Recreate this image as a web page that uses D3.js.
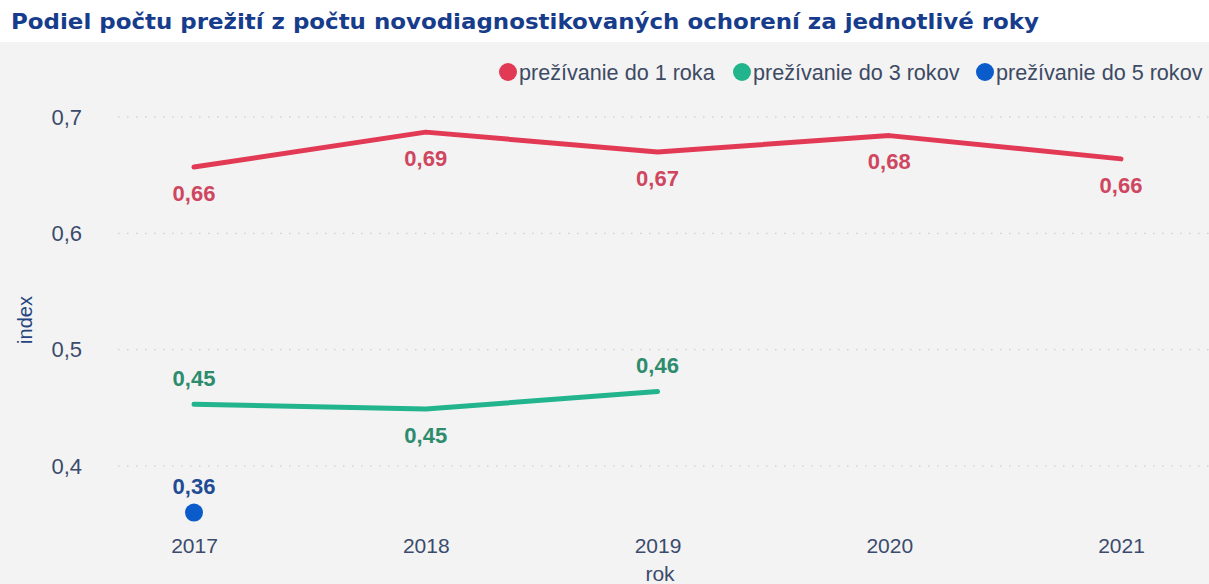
<!DOCTYPE html>
<html>
<head>
<meta charset="utf-8">
<script src="https://cdn.jsdelivr.net/npm/d3@7"></script>
<style>
  body { margin: 0; background: #fff; }
  #chart { width: 1209px; height: 584px; }
  text { font-family: "Liberation Sans", Arial, sans-serif; }
</style>
</head>
<body>
<div id="chart"></div>
<script>
// data
const years = ["2017", "2018", "2019", "2020", "2021"];
const survival1 = [0.657, 0.687, 0.670, 0.684, 0.664];
const survival3 = [0.453, 0.449, 0.464, null, null];
const survival5 = [0.360, null, null, null, null];
const seriesNames = ["prežívanie do 1 roka", "prežívanie do 3 rokov", "prežívanie do 5 rokov"];
const yTicks = [0.4, 0.5, 0.6, 0.7];
// label below (+1) or above (-1) each point
const labelSide1 = [1, 1, 1, 1, 1];
const labelSide3 = [-1, 1, -1, 0, 0];
const labelSide5 = [-1, 0, 0, 0, 0];

const colors = ["#e23a55", "#22b48c", "#0b5ccb"];
const labelColors = ["#cf4660", "#2c8c6c", "#1f4c95"];

const width = 1209, height = 584;
const svg = d3.select("#chart").append("svg")
    .attr("width", width)
    .attr("height", height);

// background panel + white title strip
svg.append("rect").attr("width", width).attr("height", height).attr("fill", "#f3f3f3");
svg.append("rect").attr("width", width).attr("height", 42).attr("fill", "#ffffff");

const title = svg.append("text")
    .attr("x", 11)
    .attr("y", 29)
    .attr("fill", "#173c8c")
    .attr("font-size", 21)
    .attr("font-weight", "bold")
    .style("font-family", "'DejaVu Sans', Verdana, sans-serif")
    .text("Podiel počtu prežití z počtu novodiagnostikovaných ochorení za jednotlivé roky");
// stretch to the width seen in the picture
title.attr("textLength", 1028).attr("lengthAdjust", "spacingAndGlyphs");

// scales
const x = d3.scalePoint().domain(years).range([194, 1121]);
const y = d3.scaleLinear().domain([0.4, 0.7]).range([466, 117]);

// gridlines
svg.append("g")
    .selectAll("line")
    .data(yTicks)
    .join("line")
    .attr("x1", 118)
    .attr("x2", width)
    .attr("y1", d => y(d))
    .attr("y2", d => y(d))
    .attr("stroke", "#c4c4c4")
    .attr("stroke-width", 1)
    .attr("stroke-dasharray", "1.5,7.5");

// y axis
const yAxis = svg.append("g")
    .attr("transform", "translate(82,0)")
    .call(d3.axisLeft(y).tickValues(yTicks).tickSize(0).tickPadding(0)
        .tickFormat(d => d3.format(".1f")(d).replace(".", ",")));
yAxis.select(".domain").remove();
yAxis.selectAll("text")
    .attr("font-size", 22)
    .attr("fill", "#3b4b6b")
    .attr("font-family", "Liberation Sans, Arial, sans-serif");

// x axis
const xAxis = svg.append("g")
    .attr("transform", "translate(0,538)")
    .call(d3.axisBottom(x).tickSize(0).tickPadding(0));
xAxis.select(".domain").remove();
xAxis.selectAll("text")
    .attr("dy", "0.71em")
    .attr("font-size", 21)
    .attr("fill", "#3b4b6b")
    .attr("font-family", "Liberation Sans, Arial, sans-serif");

// axis titles
svg.append("text")
    .attr("transform", "translate(32,320) rotate(-90)")
    .attr("text-anchor", "middle")
    .attr("font-size", 20)
    .attr("fill", "#24457f")
    .text("index");

svg.append("text")
    .attr("x", 660)
    .attr("y", 581)
    .attr("text-anchor", "middle")
    .attr("font-size", 21)
    .attr("fill", "#3b4b6b")
    .text("rok");

// series
const series = [
    { values: survival1, side: labelSide1 },
    { values: survival3, side: labelSide3 },
    { values: survival5, side: labelSide5 }
];

const line = d3.line()
    .defined(d => d.v !== null)
    .x(d => x(d.year))
    .y(d => y(d.v));

series.forEach((s, i) => {
    const pts = years.map((yr, j) => ({ year: yr, v: s.values[j], side: s.side[j] }));
    const valid = pts.filter(d => d.v !== null);

    if (valid.length > 1) {
        svg.append("path")
            .datum(pts)
            .attr("d", line)
            .attr("fill", "none")
            .attr("stroke", colors[i])
            .attr("stroke-width", 5)
            .attr("stroke-linecap", "round")
            .attr("stroke-linejoin", "round");
    } else {
        svg.selectAll(null)
            .data(valid)
            .join("circle")
            .attr("cx", d => x(d.year))
            .attr("cy", d => y(d.v))
            .attr("r", 9)
            .attr("fill", colors[i]);
    }

    svg.selectAll(null)
        .data(valid)
        .join("text")
        .attr("x", d => x(d.year))
        .attr("y", d => y(d.v) + d.side * 26)
        .attr("dy", "0.35em")
        .attr("text-anchor", "middle")
        .attr("font-size", 22)
        .attr("font-weight", "bold")
        .attr("fill", labelColors[i])
        .text(d => d3.format(".2f")(d.v).replace(".", ","));
});

// legend
const legendX = [508, 742, 985];
const legend = svg.append("g");
seriesNames.forEach((name, i) => {
    legend.append("circle")
        .attr("cx", legendX[i])
        .attr("cy", 72)
        .attr("r", 9)
        .attr("fill", colors[i]);
    legend.append("text")
        .attr("x", legendX[i] + 11)
        .attr("y", 72)
        .attr("dy", "0.35em")
        .attr("font-size", 21.6)
        .attr("fill", "#3d4a63")
        .text(name);
});
</script>
</body>
</html>
